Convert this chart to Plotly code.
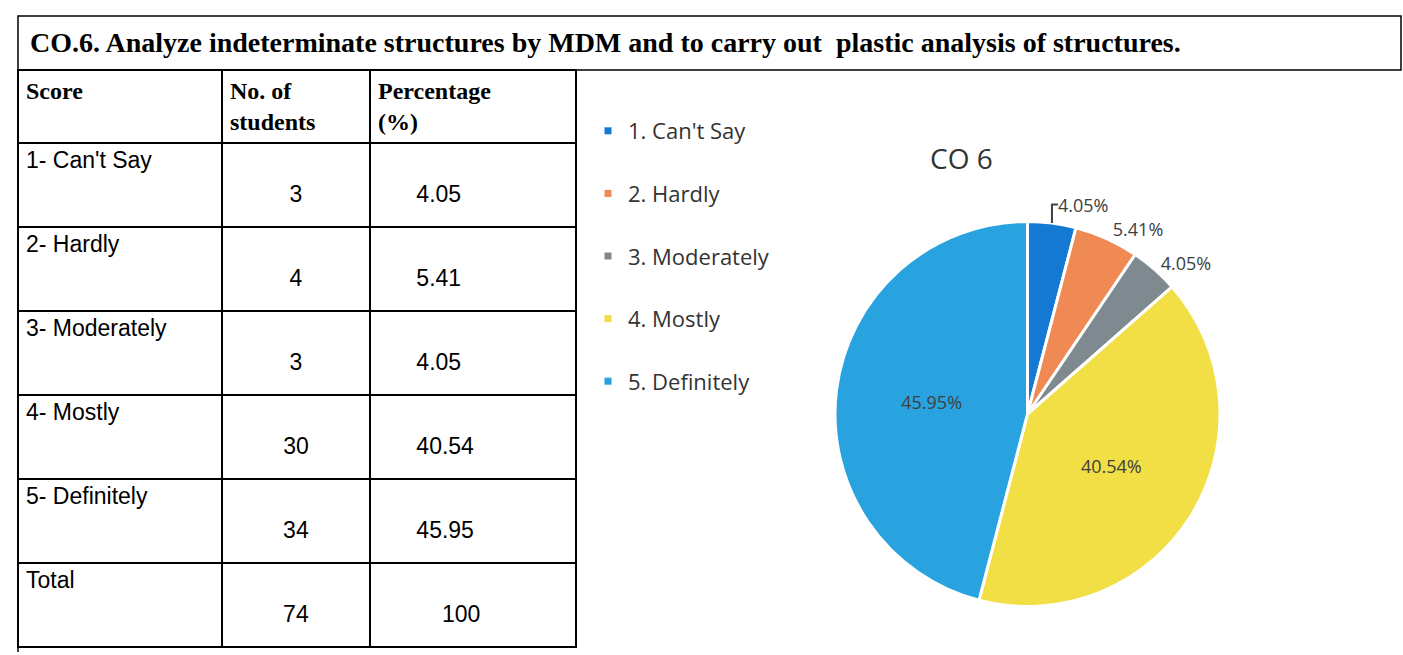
import plotly.graph_objects as go

W, H = 1403, 655

title_text = "CO.6. Analyze indeterminate structures by MDM and to carry out  plastic analysis of structures."
headers = ["Score", "No. of<br>students", "Percentage<br>(%)"]
scores = ["1- Can't Say", "2- Hardly", "3- Moderately", "4- Mostly", "5- Definitely", "Total"]
students = [3, 4, 3, 30, 34, 74]
percentages = ["4.05", "5.41", "4.05", "40.54", "45.95", "100"]

pie_labels = ["1. Can't Say", "2. Hardly", "3. Moderately", "4. Mostly", "5. Definitely"]
pie_values = [3, 4, 3, 30, 34]
pie_colors = ["#1479d2", "#ef8a55", "#7f8a90", "#f1df45", "#29a2e0"]
pie_title = "CO 6"


def px(x):
    return x / W


def py(y):
    return 1 - y / H


fig = go.Figure()

NB = "\u00a0"
col_students = [NB + "<br>" + str(n) for n in students]
col_pct = [NB + "<br>" + NB * (10 if s == "Total" else 6) + p for s, p in zip(scores, percentages)]

fig.add_trace(go.Table(
    domain=dict(x=[px(18), px(576)], y=[py(648), py(70)]),
    columnwidth=[204, 148, 206],
    header=dict(
        values=["<b>%s</b>" % h for h in headers],
        align=["left", "left", "left"],
        font=dict(family="Liberation Serif", size=24, color="black"),
        line=dict(color="black", width=1.5),
        fill=dict(color="white"),
        height=65,
    ),
    cells=dict(
        values=[scores, col_students, col_pct],
        align=["left", "center", "left"],
        font=dict(family="Liberation Sans", size=23, color="black"),
        line=dict(color="black", width=1.5),
        fill=dict(color="white"),
        height=84,
    ),
))

fig.add_trace(go.Pie(
    labels=pie_labels,
    values=pie_values,
    sort=False,
    direction="clockwise",
    rotation=0,
    marker=dict(colors=pie_colors, line=dict(color="white", width=3)),
    texttemplate="%{percent:.2%}",
    textposition=["outside", "outside", "outside", "inside", "inside"],
    textfont=dict(family="Open Sans", size=18, color="#404040"),
    insidetextfont=dict(family="Open Sans", size=18, color="#404040"),
    outsidetextfont=dict(family="Open Sans", size=18, color="#404040"),
    domain=dict(x=[px(835), px(1220)], y=[py(608), py(220)]),
    showlegend=False,
    hoverinfo="label+value+percent",
))

for i, (lab, col) in enumerate(zip(pie_labels, pie_colors)):
    fig.add_trace(go.Scatter(
        x=[None], y=[None], mode="markers",
        marker=dict(symbol="square", size=7, color=col),
        name=lab, legendgroup="g%d" % i, showlegend=True,
        xaxis="x", yaxis="y",
    ))

fig.update_layout(
    width=W, height=H,
    margin=dict(l=0, r=0, t=0, b=0),
    paper_bgcolor="white",
    plot_bgcolor="white",
    xaxis=dict(visible=False, domain=[0.99, 1.0]),
    yaxis=dict(visible=False, domain=[0.0, 0.01]),
    legend=dict(
        x=px(588), y=py(110), xanchor="left", yanchor="top",
        font=dict(family="Open Sans", size=22, color="#333333"),
        tracegroupgap=31,
        itemwidth=30,
        bgcolor="rgba(0,0,0,0)",
    ),
    shapes=[
        dict(type="rect", xref="paper", yref="paper",
             x0=px(18), x1=px(1401), y0=py(70), y1=py(16),
             line=dict(color="black", width=1.5)),
        dict(type="line", xref="paper", yref="paper",
             x0=px(18), x1=px(18), y0=py(70), y1=py(652),
             line=dict(color="black", width=1.5)),
    ],
    annotations=[
        dict(text="<b>%s</b>" % title_text, x=px(28), y=py(42), xref="paper", yref="paper",
             xanchor="left", yanchor="middle", showarrow=False,
             font=dict(family="Liberation Serif", size=28, color="black")),
        dict(text=pie_title, x=px(962), y=py(158), xref="paper", yref="paper",
             xanchor="center", yanchor="middle", showarrow=False,
             font=dict(family="Open Sans", size=28, color="#333333")),
    ],
)

fig.write_html("out.html", config={"displayModeBar": False},
               post_script="document.body.style.margin='0';document.body.style.overflow='hidden';")
